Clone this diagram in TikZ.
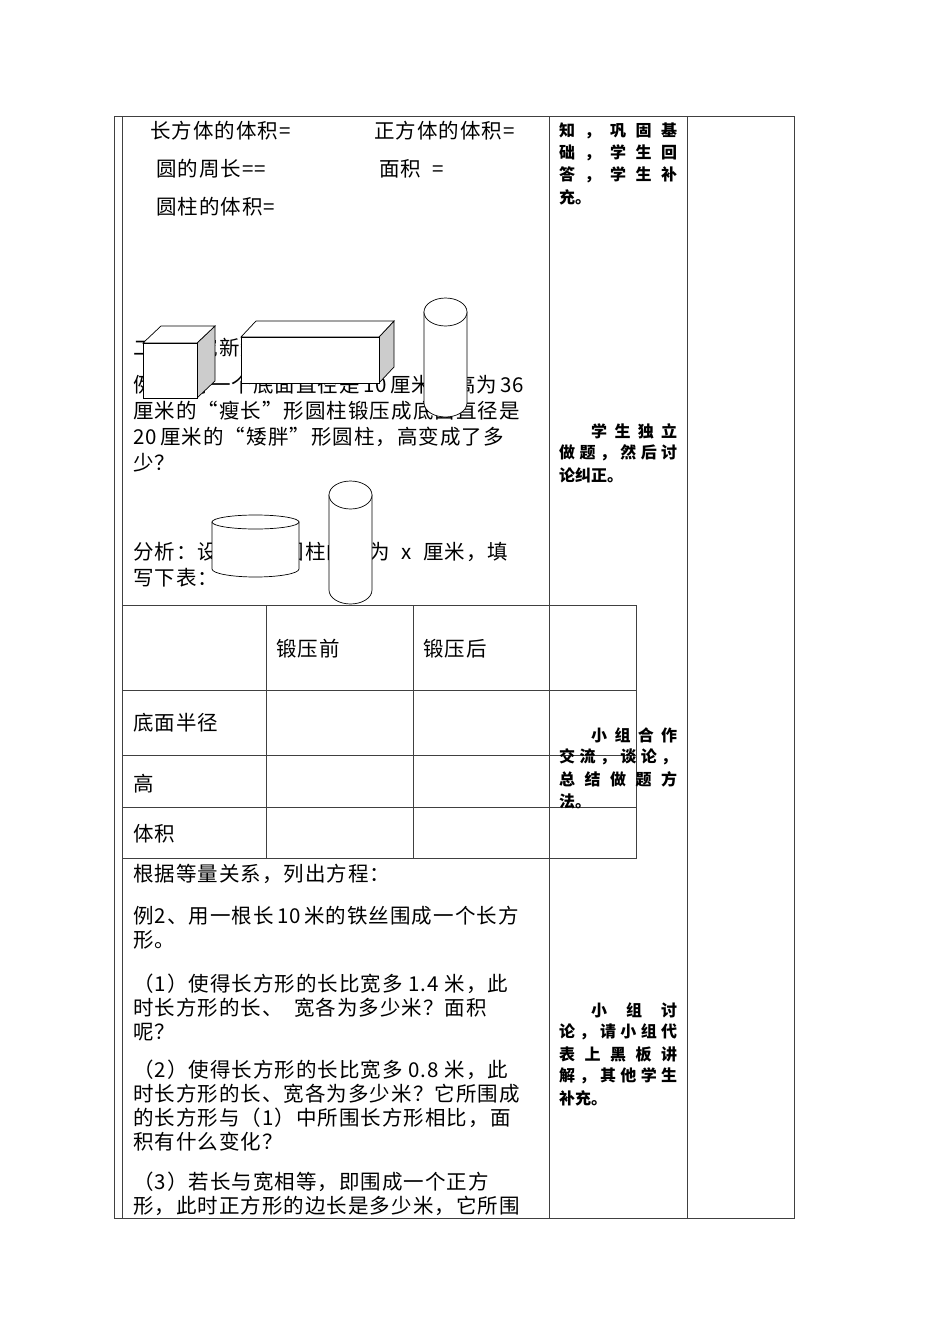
\documentclass[tikz,border=0pt]{standalone}
\usepackage{fontspec}
\setmainfont{Noto Sans CJK SC}
\newfontfamily\wide[LetterSpace=5]{Noto Sans CJK SC}
\newcommand{\J}[1]{\makebox[118pt][s]{#1}}
\begin{document}
\begin{tikzpicture}[x=1pt,y=-1pt,
 tx/.style={anchor=west,inner sep=0,font=\wide\fontsize{20.5}{20.5}\selectfont},
 rc/.style={anchor=west,inner sep=0,font=\fontsize{16}{16}\selectfont\bfseries},
 ln/.style={line width=0.8pt,draw=black!75},
 sh/.style={draw,fill=white,line width=0.7pt}]
\useasboundingbox (0,0) rectangle (950,1344);
% frame
\draw[ln] (114,116) -- (114,1218);
\draw[ln] (122,116) -- (122,1218);
\draw[ln] (114,116) -- (794,116) -- (794,1218) -- (114,1218);
\draw[ln] (549,116) -- (549,605); \draw[ln] (549,858) -- (549,1218);
\draw[ln] (687,116) -- (687,1218);
% left text
\node[tx] (t1) at (150,131) {长方体的体积=};
\node[tx] (t2) at (374,131) {正方体的体积=};
\node[tx] (t3) at (156,169) {圆的周长==};
\node[tx] (t4) at (379,169) {面积\ \ =};
\node[tx] (t5) at (156,207) {圆柱的体积=};
\node[tx] (t6) at (133,348) {二、探究新知};
\node[tx] (t7) at (133,385) {例1、将一个底面直径是\,10\,厘米，高为\,36};
\node[tx] (t8) at (133,411) {厘米的“瘦长”形圆柱锻压成底面直径是};
\node[tx] (t9) at (133,437) {20\,厘米的“矮胖”形圆柱，高变成了多};
\node[tx] (t10) at (133,463) {少？};
\node[tx] (t11) at (133,552) {分析：设锻压后圆柱的高为\ \ x\ \ 厘米，填};
\node[tx] (t12) at (133,578) {写下表：};
% shapes
\draw[sh,fill=gray!40] (197,343) -- (215,326) -- (215,381) -- (197,398) -- cycle;
\draw[sh] (143,343) -- (161,326) -- (215,326) -- (197,343) -- cycle;
\draw[sh] (143,343) rectangle (197,398);
\draw[sh,fill=gray!40] (379,337) -- (394,321) -- (394,367) -- (379,383) -- cycle;
\draw[sh] (241,337) -- (256,321) -- (394,321) -- (379,337) -- cycle;
\draw[sh] (241,337) rectangle (379,383);
\draw[sh] (424,312) -- (424,403) arc[start angle=180,end angle=0,x radius=21.5,y radius=14] -- (467,312) -- cycle;
\draw[sh] (445.5,312) ellipse [x radius=21.5,y radius=14];
\draw[sh] (212,522) -- (212,569) arc[start angle=180,end angle=0,x radius=43.5,y radius=8] -- (299,522) -- cycle;
\draw[sh] (255.5,522) ellipse [x radius=43.5,y radius=7];
\draw[sh] (329,495) -- (329,590) arc[start angle=180,end angle=0,x radius=21.5,y radius=14] -- (372,495) -- cycle;
\draw[sh] (350.5,495) ellipse [x radius=21.5,y radius=14];
% table
\draw[ln] (122,605) rectangle (636,858);
\foreach \y in {690,755,807} \draw[ln] (122,\y) -- (636,\y);
\foreach \x in {266,413,549} \draw[ln] (\x,605) -- (\x,858);
\node[tx] (h1) at (276,649) {锻压前};
\node[tx] (h2) at (423,649) {锻压后};
\node[tx] (r1) at (133,723) {底面半径};
\node[tx] (r2) at (133,784) {高};
\node[tx] (r3) at (133,834) {体积};
% lower text
\node[tx] (u1) at (133,874) {根据等量关系，列出方程：};
\node[tx] (u2) at (133,916) {例2、用一根长\,10\,米的铁丝围成一个长方};
\node[tx] (u3) at (133,940) {形。};
\node[tx] (u4) at (133,984) {（1）使得长方形的长比宽多\ 1.4\ 米，此};
\node[tx] (u5) at (133,1008) {时长方形的长、\ \ 宽各为多少米？面积};
\node[tx] (u6) at (133,1032) {呢？};
\node[tx] (u7) at (133,1070) {（2）使得长方形的长比宽多\ 0.8\ 米，此};
\node[tx] (u8) at (133,1094) {时长方形的长、宽各为多少米？它所围成};
\node[tx] (u9) at (133,1118) {的长方形与（1）中所围长方形相比，面};
\node[tx] (u10) at (133,1142) {积有什么变化？};
\node[tx] (u11) at (133,1182) {（3）若长与宽相等，即围成一个正方};
\node[tx] (u12) at (133,1206) {形，此时正方形的边长是多少米，它所围};
% right column
\node[rc] (a1) at (559,131) {\J{知\hfill，\hfill 巩\hfill 固\hfill 基}};
\node[rc] (a2) at (559,153) {\J{础\hfill，\hfill 学\hfill 生\hfill 回}};
\node[rc] (a3) at (559,175) {\J{答\hfill，\hfill 学\hfill 生\hfill 补}};
\node[rc] (a4) at (559,197) {充。};
\node[rc] (b1) at (591,431) {\makebox[86pt][s]{学\hfill 生\hfill 独\hfill 立}};
\node[rc] (b2) at (559,453) {\J{做\hfill 题\hfill ，\hfill 然\hfill 后\hfill 讨}};
\node[rc] (b3) at (559,475) {论纠正。};
\node[rc] (c1) at (591,735) {\makebox[86pt][s]{小\hfill 组\hfill 合\hfill 作}};
\node[rc] (c2) at (559,757) {\J{交\hfill 流\hfill ，\hfill 谈\hfill 论\hfill ，}};
\node[rc] (c3) at (559,779) {\J{总\hfill 结\hfill 做\hfill 题\hfill 方}};
\node[rc] (c4) at (559,801) {法。};
\node[rc] (d1) at (591,1010) {\makebox[86pt][s]{小\hfill 组\hfill 讨}};
\node[rc] (d2) at (559,1032) {\J{论\hfill ，\hfill 请\hfill 小\hfill 组\hfill 代}};
\node[rc] (d3) at (559,1054) {\J{表\hfill 上\hfill 黑\hfill 板\hfill 讲}};
\node[rc] (d4) at (559,1076) {\J{解\hfill ，\hfill 其\hfill 他\hfill 学\hfill 生}};
\node[rc] (d5) at (559,1098) {补充。};
\end{tikzpicture}
\end{document}
